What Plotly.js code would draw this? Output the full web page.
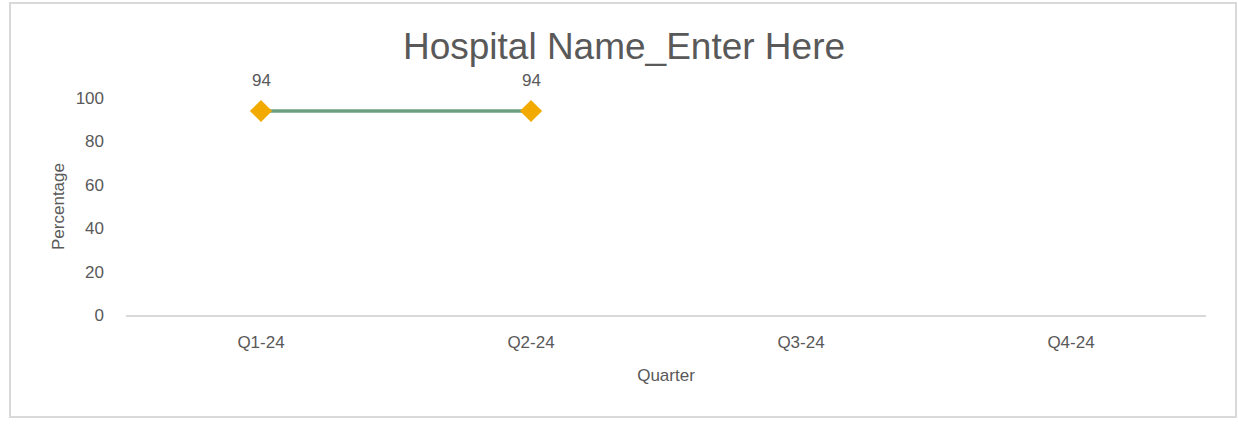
<!DOCTYPE html>
<html>
<head>
<meta charset="utf-8">
<script src="https://cdn.plot.ly/plotly-3.0.1.min.js"></script>
<style>
html,body{margin:0;padding:0;background:#fff;}
#chart{width:1238px;height:432px;}
</style>
</head>
<body>
<div id="chart"></div>
<script>
const quarters = ["Q1-24", "Q2-24", "Q3-24", "Q4-24"];
const percentage = [94, 94, null, null];
const yTicks = [0, 20, 40, 60, 80, 100];

const font = '"Liberation Sans Narrow", "Arial Narrow", "Liberation Sans", Arial, sans-serif';
const grey = '#595959';

const trace = {
  x: quarters,
  y: percentage,
  type: 'scatter',
  mode: 'lines+markers',
  line: {color: '#6b9f80', width: 3.5},
  marker: {symbol: 'diamond', color: '#f2a900', size: 17},
  cliponaxis: false,
  hoverinfo: 'x+y'
};

const labelAnnotations = quarters.map((q, i) => percentage[i] == null ? null : ({
  x: q, y: percentage[i], xref: 'x', yref: 'y',
  text: String(percentage[i]),
  showarrow: false,
  yshift: 31,
  font: {family: font, size: 17, color: grey}
})).filter(a => a);

const layout = {
  width: 1238,
  height: 432,
  margin: {l: 126, r: 32, t: 98, b: 117},
  paper_bgcolor: '#ffffff',
  plot_bgcolor: '#ffffff',
  showlegend: false,
  title: {
    text: 'Hospital Name_Enter Here',
    font: {family: '"Liberation Sans", Arial, sans-serif', size: 37, color: grey},
    x: 624/1238, xanchor: 'center', xref: 'container',
    y: 1 - 46/432, yanchor: 'middle', yref: 'container'
  },
  xaxis: {
    type: 'category',
    categoryorder: 'array',
    categoryarray: quarters,
    range: [-0.5, 3.5],
    showgrid: false,
    zeroline: false,
    showline: true,
    linecolor: '#d9d9d9',
    linewidth: 2,
    ticks: '',
    tickfont: {family: font, size: 17, color: grey},
    ticklabelstandoff: 11,
    title: {text: 'Quarter', font: {family: font, size: 17, color: grey}, standoff: 18},
    fixedrange: true
  },
  yaxis: {
    range: [0, 100],
    tickvals: yTicks,
    ticktext: yTicks.map(String),
    showgrid: false,
    zeroline: false,
    showline: false,
    ticks: '',
    tickfont: {family: font, size: 17, color: grey},
    ticklabelstandoff: 21,
    title: {text: 'Percentage', font: {family: font, size: 17, color: grey}, standoff: 6},
    fixedrange: true
  },
  annotations: labelAnnotations,
  shapes: [{
    type: 'rect', xref: 'paper', yref: 'paper',
    x0: -116/1080, x1: 1110/1080,
    y0: -102/217, y1: 312/217,
    line: {color: '#d9d9d9', width: 2},
    fillcolor: 'rgba(0,0,0,0)',
    layer: 'below'
  }]
};

Plotly.newPlot('chart', [trace], layout, {displayModeBar: false});
</script>
</body>
</html>
